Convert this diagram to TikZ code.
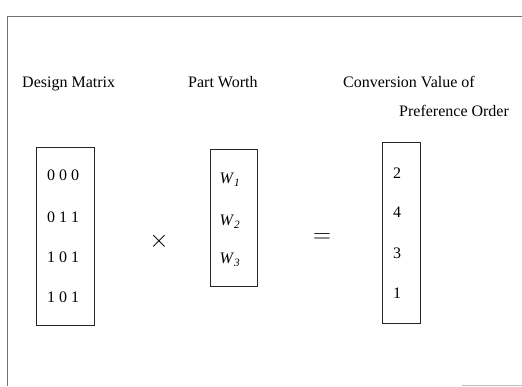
\documentclass[tikz,border=0pt]{standalone}
\usepackage{fontspec}
\setmainfont{Liberation Serif}
\begin{document}
\begin{tikzpicture}[x=1pt,y=-1pt,
  frameline/.style={draw=black!55,line width=0.8pt},
  head/.style={anchor=base west,inner sep=0pt,font=\fontsize{16}{18}\selectfont},
  vbox/.style={draw=black!85,line width=0.8pt,rectangle,inner sep=0pt},
  entry/.style={inner sep=0pt,font=\fontsize{16}{18}\selectfont},
  opsym/.style={inner sep=0pt}]
\useasboundingbox (0,0) rectangle (522,386);
% frame
\coordinate (ftr) at (522,16);
\coordinate (ftl) at (7,16);
\coordinate (fbl) at (7,386);
\draw[frameline] (ftr) -- (ftl) -- (fbl);
\coordinate (fb1) at (462,385);
\coordinate (fb2) at (522,385);
\draw[draw=black!25,line width=0.6pt] (fb1) -- (fb2);
% headers
\node[head] (h1) at (22,87) {Design Matrix};
\node[head] (h2) at (188,87) {Part Worth};
\node[head] (h3) at (343,87) {Conversion Value of};
\node[head] (h4) at (399,116) {Preference Order};
% boxes
\node[vbox,minimum width=58,minimum height=178] (b1) at (65,236) {};
\node[vbox,minimum width=47,minimum height=137] (b2) at (233.5,217.5) {};
\node[vbox,minimum width=38,minimum height=181] (b3) at (401,232.5) {};
% design matrix rows
\node[entry] (r1) at (63,175) {0 0 0};
\node[entry] (r2) at (63,217) {0 1 1};
\node[entry] (r3) at (63,257) {1 0 1};
\node[entry] (r4) at (63,297) {1 0 1};
% part worth
\node[entry] (w1) at (230,180) {\textit{W}\textsubscript{\textit{1}}};
\node[entry] (w2) at (230,222) {\textit{W}\textsubscript{\textit{2}}};
\node[entry] (w3) at (230,260) {\textit{W}\textsubscript{\textit{3}}};
% result
\node[entry] (v1) at (397,173) {2};
\node[entry] (v2) at (397,212) {4};
\node[entry] (v3) at (397,253) {3};
\node[entry] (v4) at (397,293) {1};
% operators
\node[opsym,font=\fontsize{24}{26}\selectfont] (times) at (159,241) {$\times$};
\node[opsym,font=\fontsize{24}{26}\selectfont] (eq) at (322,238) {$=$};
\end{tikzpicture}
\end{document}
